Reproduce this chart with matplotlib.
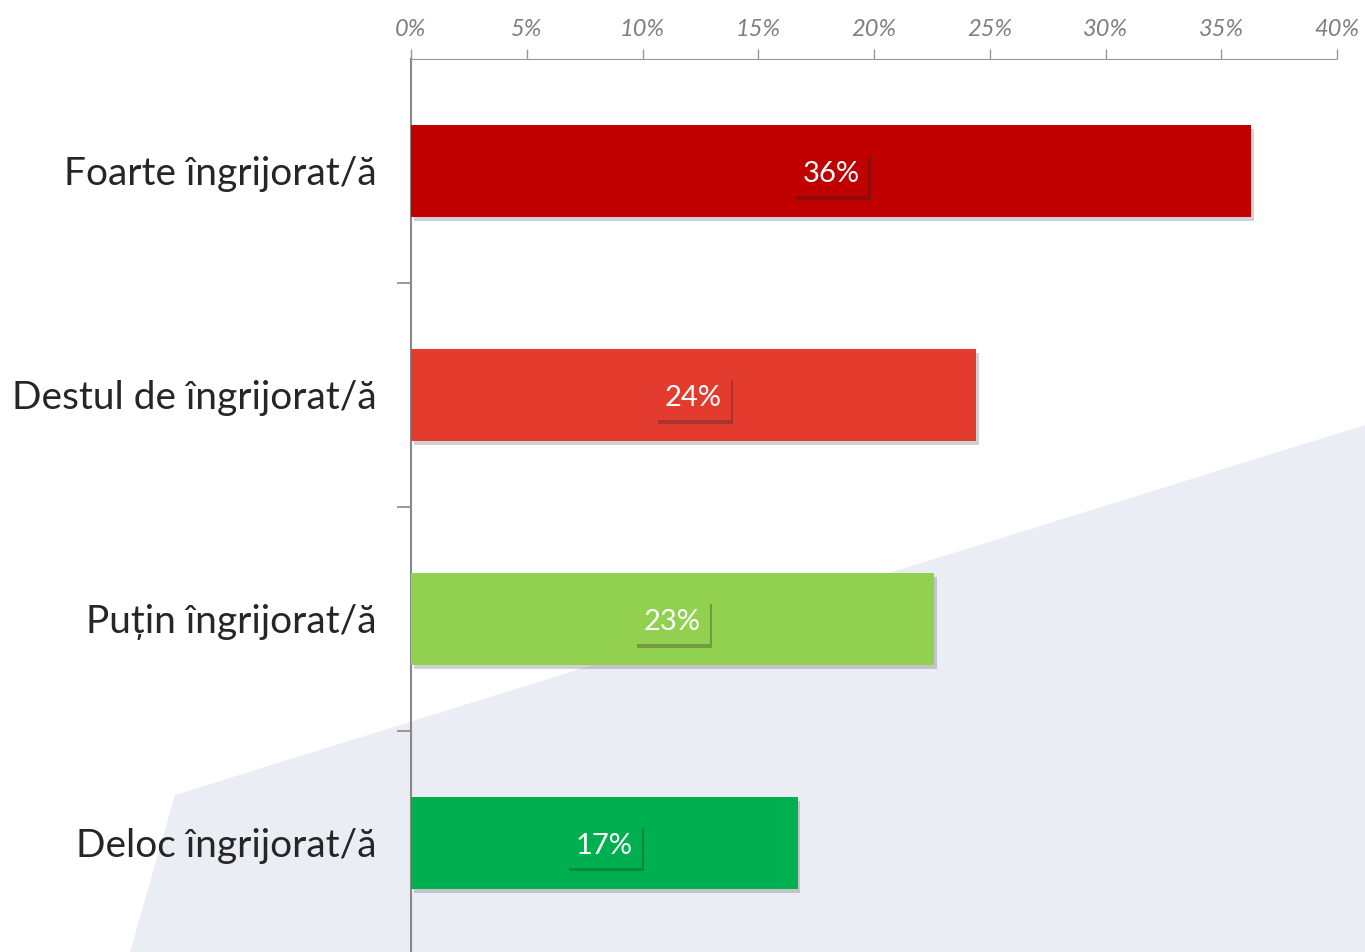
import matplotlib
matplotlib.use("Agg")
import matplotlib.pyplot as plt
import matplotlib.patheffects as pe
from matplotlib.patches import Polygon

# data
categories = ["Foarte îngrijorat/ă", "Destul de îngrijorat/ă",
              "Puțin îngrijorat/ă", "Deloc îngrijorat/ă"]
values = [36.3, 24.4, 22.6, 16.7]
value_labels = ["36%", "24%", "23%", "17%"]
colors = ["#C00000", "#E33C2F", "#92D050", "#00B050"]
xticks = [0, 5, 10, 15, 20, 25, 30, 35, 40]
xtick_labels = [f"{t}%" for t in xticks]

plt.rcParams['font.family'] = ['Lato', 'DejaVu Sans']

fig = plt.figure(figsize=(13.65, 9.52), dpi=100)
fig.patch.set_facecolor("white")

# light background shape behind the chart
bg_ax = fig.add_axes([0, 0, 1, 1], zorder=-1)
bg_ax.set_xlim(0, 1365)
bg_ax.set_ylim(952, 0)
bg_ax.axis("off")
bg_ax.add_patch(Polygon([(1365, 425), (175, 795), (130, 952), (1365, 952)],
                        closed=True, facecolor="#EAEDF4", edgecolor="none"))

ax = fig.add_axes([411 / 1365, -0.003, (1337 - 411) / 1365, 0.941])
ax.set_facecolor("none")

ypos = list(range(len(categories)))
shadow = [pe.SimplePatchShadow(offset=(2, -3), shadow_rgbFace="#666666", alpha=0.3),
          pe.Normal()]
bars = ax.barh(ypos, values, height=0.41, color=colors, zorder=3)
for b in bars:
    b.set_path_effects(shadow)

for y, v, lab, c in zip(ypos, values, value_labels, colors):
    t = ax.text(v / 2, y + 0.015, lab, ha="center", va="center", color="white",
                fontsize=21, zorder=5,
                bbox=dict(boxstyle="square,pad=0.3", facecolor=c, edgecolor="none"))
    t.get_bbox_patch().set_path_effects(
        [pe.SimplePatchShadow(offset=(1.5, -2.5), shadow_rgbFace="#222222", alpha=0.3),
         pe.Normal()])

ax.set_xlim(0, 40)
ax.set_ylim(3.5, -0.5)

ax.xaxis.tick_top()
ax.set_xticks(xticks)
ax.set_xticklabels(xtick_labels, fontsize=17, style="italic", color="#7F7F7F")
ax.tick_params(axis="x", direction="out", length=7, width=1, color="#999999",
               pad=7)
for tl in ax.xaxis.get_ticklines():
    tl.set_linestyle((0, (1, 1)))

ax.set_yticks([0.5, 1.5, 2.5])
ax.set_yticklabels([])
ax.tick_params(axis="y", direction="out", length=10, width=1.2, color="#888888")
for y, name in zip(ypos, categories):
    ax.text(-34 / 1365 * 40 / ((1337 - 411) / 1365), y + 0.012, name, ha="right",
            va="center", fontsize=28, color="#262626")

for s in ["right", "bottom"]:
    ax.spines[s].set_visible(False)
ax.spines["top"].set_linestyle((0, (1, 1)))
ax.spines["top"].set_color("#999999")
ax.spines["left"].set_color("#888888")
ax.spines["left"].set_linewidth(1.5)

fig.savefig("out.png", dpi=100)
